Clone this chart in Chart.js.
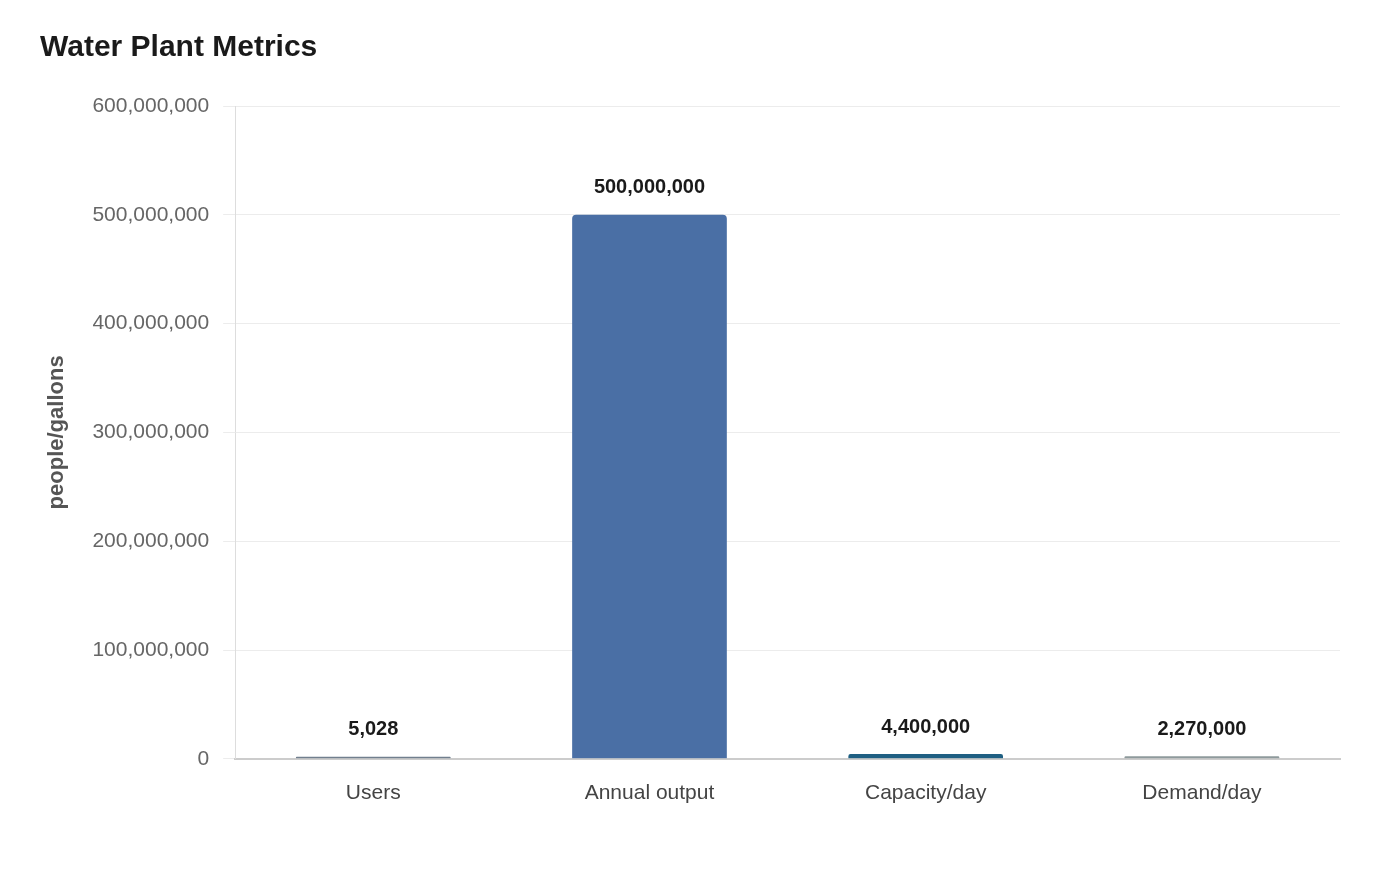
<!DOCTYPE html>
<html>
<head>
<meta charset="utf-8">
<script src="https://cdn.jsdelivr.net/npm/chart.js@4/dist/chart.umd.min.js"></script>
<style>
  html, body { margin: 0; padding: 0; background: #fff; }
  #wrap { width: 1400px; height: 880px; position: relative; }
</style>
</head>
<body>
<div id="wrap"><canvas id="chart"></canvas></div>
<script>
const categories = ['Users', 'Annual output', 'Capacity/day', 'Demand/day'];
const values = [5028, 500000000, 4400000, 2270000];
const barColors = ['#717f8e', '#4a6fa5', '#1e5f82', '#8e9a9c'];

// value labels above each bar
const valueLabels = {
  id: 'valueLabels',
  afterDatasetsDraw(chart) {
    const ctx = chart.ctx;
    const meta = chart.getDatasetMeta(0);
    ctx.save();
    ctx.font = 'bold 20px "Liberation Sans", Arial, sans-serif';
    ctx.fillStyle = '#1a1a1a';
    ctx.textAlign = 'center';
    ctx.textBaseline = 'bottom';
    meta.data.forEach((bar, i) => {
      ctx.fillText(values[i].toLocaleString('en-US'), bar.x, bar.y - 17);
    });
    ctx.restore();
  }
};

new Chart(document.getElementById('chart'), {
  type: 'bar',
  data: {
    labels: categories,
    datasets: [{
      data: values,
      backgroundColor: barColors,
      borderRadius: { topLeft: 4, topRight: 4 },
      borderSkipped: 'bottom',
      minBarLength: 2,
      categoryPercentage: 1,
      barPercentage: 0.56
    }]
  },
  options: {
    responsive: true,
    maintainAspectRatio: false,
    animation: false,
    layout: { padding: { left: 40, right: 60, top: 30, bottom: 60 } },
    plugins: {
      legend: { display: false },
      tooltip: { enabled: false },
      title: {
        display: true,
        text: 'Water Plant Metrics',
        align: 'start',
        color: '#1a1a1a',
        font: { family: '"Liberation Sans", Arial, sans-serif', size: 30, weight: 'bold' },
        padding: { top: 0, bottom: 40 }
      }
    },
    scales: {
      x: {
        grid: { display: false },
        border: { color: '#cccccc', width: 2 },
        ticks: {
          color: '#444',
          padding: 14,
          font: { family: '"Liberation Sans", Arial, sans-serif', size: 21 }
        }
      },
      y: {
        min: 0,
        max: 600000000,
        ticks: {
          stepSize: 100000000,
          color: '#666',
          padding: 14,
          font: { family: '"Liberation Sans", Arial, sans-serif', size: 21 },
          callback: v => v.toLocaleString('en-US')
        },
        grid: { color: '#ececec', tickLength: 12 },
        border: { color: '#dddddd' },
        title: {
          display: true,
          text: 'people/gallons',
          color: '#555',
          padding: { bottom: 8 },
          font: { family: '"Liberation Sans", Arial, sans-serif', size: 22, weight: 'bold' }
        }
      }
    }
  },
  plugins: [valueLabels]
});
</script>
</body>
</html>
